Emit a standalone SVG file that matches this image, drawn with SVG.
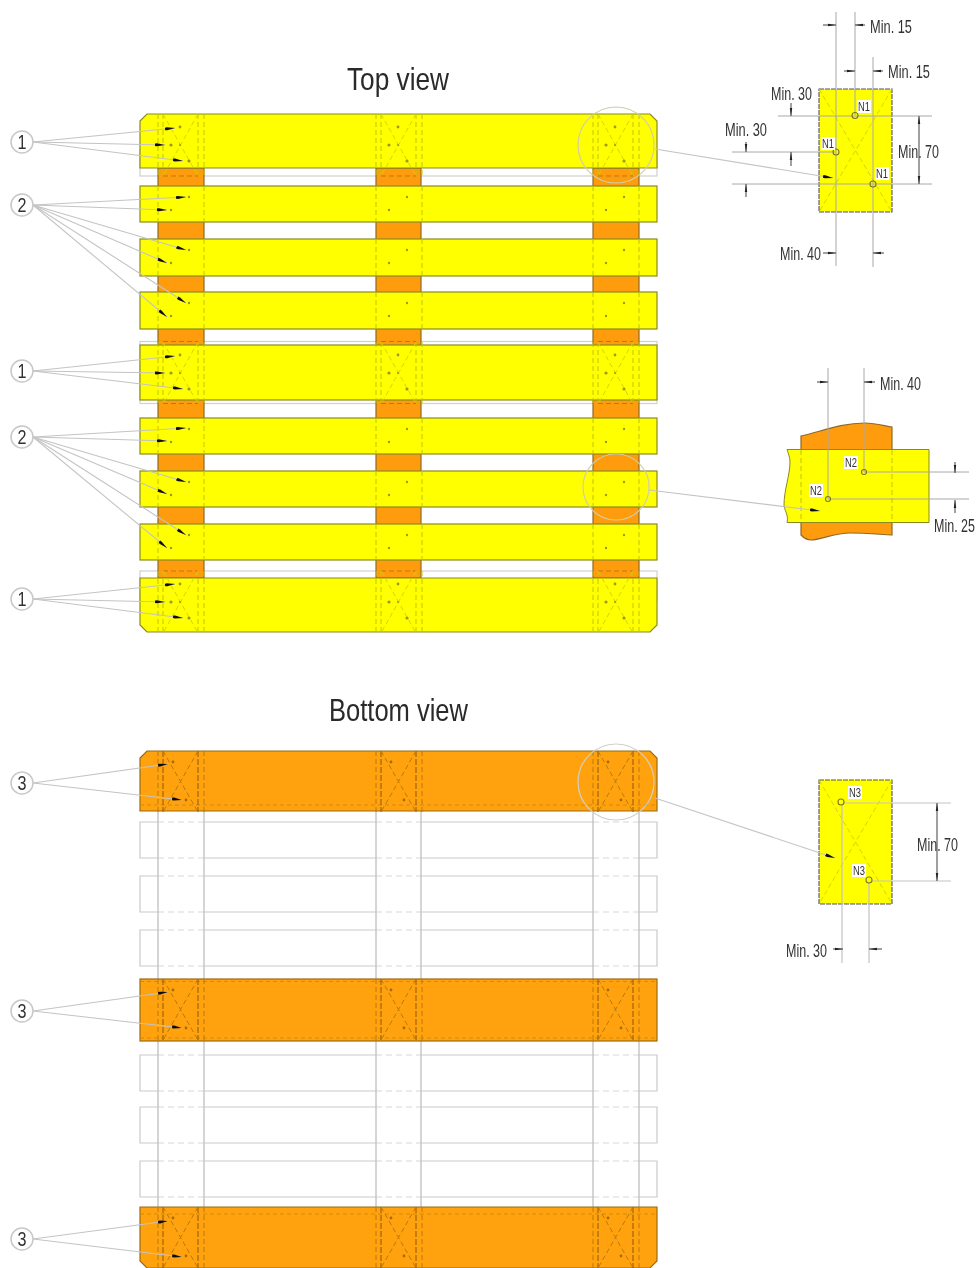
<svg xmlns="http://www.w3.org/2000/svg" width="978" height="1268" viewBox="0 0 978 1268">
<style>
text{font-family:"Liberation Sans",Arial,sans-serif;fill:#333}
.title{font-size:32px;fill:#2a2a2a}
.dimt{font-size:18px}
.num{font-size:20px;text-anchor:middle}
.nlab{font-size:12.5px;fill:#333}
.nbg{fill:#fff}
.yb{fill:#ff0;stroke:#8a8a20;stroke-width:1.2}
.ob{fill:#ffa20c;stroke:#9a6a14;stroke-width:1.2}
.block{fill:#ff9c0e;stroke:#8d6a2a;stroke-width:1.2}
.hid{fill:#fff;stroke:#d0d0d0;stroke-width:1.2}
.dy{fill:none;stroke:#c4c400;stroke-width:1;stroke-dasharray:5 3}
.dyt{fill:none;stroke:#d0d000;stroke-width:.9;stroke-dasharray:5 3}
.dor{fill:none;stroke:#b87a10;stroke-width:1;stroke-dasharray:5 3}
.dor2{fill:none;stroke:#8a5a10;stroke-width:1;stroke-dasharray:6 2}
.dor3{fill:none;stroke:#d08a10;stroke-width:1;stroke-dasharray:4 3}
.dot{fill:#9a9a20}
.dodot{fill:#a8680c}
.gl{fill:none;stroke:#cacaca;stroke-width:1.2}
.gd{fill:none;stroke:#d8d8d8;stroke-width:1.2;stroke-dasharray:6 4}
.vl{fill:none;stroke:#c4c4c4;stroke-width:1.4}
.lead{fill:none;stroke:#c4c4c4;stroke-width:1.1;marker-end:url(#tip)}
.callout{fill:#fff;stroke:#c8c8c8;stroke-width:1.5}
.loupe{fill:none;stroke:#cfcfa8;stroke-width:1.2}
.ext{fill:none;stroke:#a8a8a8;stroke-width:1}
.dim{fill:none;stroke:#444;stroke-width:1;marker-end:url(#dtip)}
.det{fill:#ff0;stroke:#555;stroke-width:1.1;stroke-dasharray:5 1}
.hole{fill:none;stroke:#7a7a20;stroke-width:1.1}
</style>
<defs>
<filter id="soft" filterUnits="userSpaceOnUse" x="0" y="0" width="978" height="1268"><feGaussianBlur stdDeviation="0.65"/></filter>
<marker id="tip" markerUnits="userSpaceOnUse" markerWidth="11" markerHeight="6" refX="10" refY="2.500" orient="auto"><path d="M0,1.200 L2,1 L10,2.500 L2,4 L0,3.800Z" fill="#111"/></marker>
<marker id="dtip" markerUnits="userSpaceOnUse" markerWidth="9" markerHeight="5" refX="8" refY="2.500" orient="auto"><path d="M0,1.300 L8,2.500 L0,3.700Z" fill="#222"/></marker>
<g id="topWide">
<path class="dy" d="M0,0V62M46,0V62"/>
<path class="dy" d="M5,0V62M40,0V62"/>
<path class="dyt" d="M5,0L40,62M40,0L5,62"/>
<circle class="dot" cx="22" cy="13" r="1.4"/><circle class="dot" cx="13" cy="31" r="1.6"/><circle class="dot" cx="31" cy="47" r="1.6"/><circle class="dot" cx="22" cy="31" r="1"/>
</g>
<g id="topNarrow">
<path class="dy" d="M0,0V36M46,0V36"/>
<circle class="dot" cx="31" cy="11" r="1.2"/><circle class="dot" cx="13" cy="24" r="1.2"/>
</g>
<g id="botWide">
<path class="dor" d="M0,0V61M46,0V61"/>
<path class="dor2" d="M5,0V61M40,0V61"/>
<path class="dor" d="M5,0L40,61M40,0L5,61"/>
<circle class="dodot" cx="15" cy="11" r="1.4"/><circle class="dodot" cx="28" cy="49" r="1.4"/>
</g>
<g id="openBoard">
<path class="gl" d="M18,0H0V36H18M64,0H236M281,0H453M499,0H517V36H499M453,36H281M236,36H64"/>
<path class="gd" d="M18,0H64M236,0H281M453,0H499M18,36H64M236,36H281M453,36H499"/>
</g>
</defs>
<rect width="978" height="1268" fill="#fff"/>
<g filter="url(#soft)">
<g id="top-view">
<text class="title" x="347" y="90" textLength="102" lengthAdjust="spacingAndGlyphs">Top view</text>
<rect class="hid" x="140" y="150" width="517" height="26"/>
<rect class="hid" x="140" y="341.500" width="517" height="62"/>
<rect class="hid" x="140" y="571" width="517" height="30"/>
<rect class="block" x="158" y="168" width="46" height="410"/>
<rect class="block" x="376" y="168" width="45" height="410"/>
<rect class="block" x="593" y="168" width="46" height="410"/>
<path class="dor" d="M163,176H198M381,176H416M598,176H633M163,341.500H198M381,341.500H416M598,341.500H633M163,403.500H198M381,403.500H416M598,403.500H633M163,571H198M381,571H416M598,571H633"/>
<path class="yb" d="M147,114H650L657,121V168H140V121Z"/>
<rect class="yb" x="140" y="186" width="517" height="36"/>
<rect class="yb" x="140" y="239" width="517" height="37"/>
<rect class="yb" x="140" y="292" width="517" height="37"/>
<rect class="yb" x="140" y="345" width="517" height="55"/>
<rect class="yb" x="140" y="418" width="517" height="36"/>
<rect class="yb" x="140" y="471" width="517" height="36"/>
<rect class="yb" x="140" y="524" width="517" height="36"/>
<path class="yb" d="M140,578H657V625L650,632H147L140,625Z"/>
<use href="#topWide" x="158" y="114"/><use href="#topWide" x="376" y="114"/><use href="#topWide" x="593" y="114"/>
<use href="#topWide" x="158" y="342"/><use href="#topWide" x="376" y="342"/><use href="#topWide" x="593" y="342"/>
<use href="#topWide" x="158" y="571"/><use href="#topWide" x="376" y="571"/><use href="#topWide" x="593" y="571"/>
<use href="#topNarrow" x="158" y="186"/><use href="#topNarrow" x="376" y="186"/><use href="#topNarrow" x="593" y="186"/>
<use href="#topNarrow" x="158" y="239"/><use href="#topNarrow" x="376" y="239"/><use href="#topNarrow" x="593" y="239"/>
<use href="#topNarrow" x="158" y="292"/><use href="#topNarrow" x="376" y="292"/><use href="#topNarrow" x="593" y="292"/>
<use href="#topNarrow" x="158" y="418"/><use href="#topNarrow" x="376" y="418"/><use href="#topNarrow" x="593" y="418"/>
<use href="#topNarrow" x="158" y="471"/><use href="#topNarrow" x="376" y="471"/><use href="#topNarrow" x="593" y="471"/>
<use href="#topNarrow" x="158" y="524"/><use href="#topNarrow" x="376" y="524"/><use href="#topNarrow" x="593" y="524"/>
<circle class="loupe" cx="616" cy="145" r="38"/>
<circle class="loupe" cx="616" cy="487" r="33"/>
</g>
<g id="bottom-view">
<text class="title" x="329" y="721" textLength="139" lengthAdjust="spacingAndGlyphs">Bottom view</text>
<use href="#openBoard" x="140" y="822"/><use href="#openBoard" x="140" y="876"/><use href="#openBoard" x="140" y="930"/>
<use href="#openBoard" x="140" y="1055"/><use href="#openBoard" x="140" y="1107"/><use href="#openBoard" x="140" y="1161"/>
<path class="vl" d="M158,811V979M204,811V979M376,811V979M421,811V979M593,811V979M639,811V979M158,1041V1207M204,1041V1207M376,1041V1207M421,1041V1207M593,1041V1207M639,1041V1207"/>
<path class="ob" d="M147,751H650L657,758V811H140V758Z"/>
<rect class="ob" x="140" y="979" width="517" height="62"/>
<path class="ob" d="M140,1207H657V1261L650,1268H147L140,1261Z"/>
<path class="dor3" d="M140,805H657M140,981.500H657M140,1038H657M140,1214H657"/>
<use href="#botWide" x="158" y="751"/><use href="#botWide" x="376" y="751"/><use href="#botWide" x="593" y="751"/>
<use href="#botWide" x="158" y="979"/><use href="#botWide" x="376" y="979"/><use href="#botWide" x="593" y="979"/>
<use href="#botWide" x="158" y="1207"/><use href="#botWide" x="376" y="1207"/><use href="#botWide" x="593" y="1207"/>
<circle class="loupe" cx="616" cy="782" r="38" style="stroke:#d0d0c8"/>
</g>
<g id="detail-n1">
<rect class="det" x="819" y="89" width="73" height="123"/>
<path class="dyt" d="M819,89L892,212M892,89L819,212"/>
<path class="ext" d="M836,12V266M855,12V115M873,57V267M778,116H932M732,152H836M732,184H932"/>
<circle class="hole" cx="855" cy="115.500" r="3"/><circle class="hole" cx="836" cy="152" r="3"/><circle class="hole" cx="873" cy="184" r="3"/>
<path class="dim" d="M823,25H836"/><path class="dim" d="M865,25H855"/>
<path class="dim" d="M844,71H855"/><path class="dim" d="M883,71H873"/>
<path class="dim" d="M791,103V116"/><path class="dim" d="M791,166V152"/>
<path class="dim" d="M746,142V152"/><path class="dim" d="M746,197V184"/>
<path class="dim" d="M919,150V116"/><path class="dim" d="M919,150V184"/>
<path class="dim" d="M823,253H836"/><path class="dim" d="M884,253H873"/>
<rect class="nbg" x="857" y="100" width="14" height="13"/><text class="nlab" x="858" y="111" textLength="12" lengthAdjust="spacingAndGlyphs">N1</text>
<rect class="nbg" x="821" y="137" width="14" height="13"/><text class="nlab" x="822" y="148" textLength="12" lengthAdjust="spacingAndGlyphs">N1</text>
<rect class="nbg" x="875" y="167" width="14" height="13"/><text class="nlab" x="876" y="178" textLength="12" lengthAdjust="spacingAndGlyphs">N1</text>
<text class="dimt" x="870" y="33" textLength="42" lengthAdjust="spacingAndGlyphs">Min. 15</text>
<text class="dimt" x="888" y="78" textLength="42" lengthAdjust="spacingAndGlyphs">Min. 15</text>
<text class="dimt" x="771" y="100" textLength="41" lengthAdjust="spacingAndGlyphs">Min. 30</text>
<text class="dimt" x="725" y="136" textLength="42" lengthAdjust="spacingAndGlyphs">Min. 30</text>
<text class="dimt" x="898" y="158" textLength="41" lengthAdjust="spacingAndGlyphs">Min. 70</text>
<text class="dimt" x="780" y="260" textLength="41" lengthAdjust="spacingAndGlyphs">Min. 40</text>
</g>
<g id="detail-n2">
<path class="block" d="M801,436C820,432 840,423 865,423C875,423 885,426 892,427V535C875,534 865,533 850,533C835,533 820,540 811,540C807,540 804,538 801,535Z"/>
<path class="yb" d="M787,449.500H929V522.500H787C789,515 784,510 784,505C784,490 790,475 790,462C790,457 788,453 787,449.500Z" style="stroke-width:1"/>
<path class="dy" d="M801,450V522M892,450V522"/>
<path class="ext" d="M828,368V499M864,368V472M864,472H969M828,499H969"/>
<circle class="hole" cx="864" cy="472" r="2.500"/><circle class="hole" cx="828" cy="499" r="2.500"/>
<path class="dim" d="M817,382H828"/><path class="dim" d="M875,382H864"/>
<path class="dim" d="M955,462V473"/><path class="dim" d="M955,513V500"/>
<rect class="nbg" x="844" y="456" width="14" height="13"/><text class="nlab" x="845" y="467" textLength="12" lengthAdjust="spacingAndGlyphs">N2</text>
<rect class="nbg" x="809" y="484" width="14" height="13"/><text class="nlab" x="810" y="495" textLength="12" lengthAdjust="spacingAndGlyphs">N2</text>
<text class="dimt" x="880" y="390" textLength="41" lengthAdjust="spacingAndGlyphs">Min. 40</text>
<text class="dimt" transform="translate(934,532) scale(.695,1)">Min. 25</text>
</g>
<g id="detail-n3">
<rect class="det" x="819" y="780" width="73" height="124"/>
<path class="dyt" d="M819,780L892,904M892,780L819,904"/>
<path class="ext" d="M842,805V963M869,883V963M844,803H951M872,881H951" style="stroke:#c4c4c4;stroke-width:1.2"/>
<circle class="hole" cx="841" cy="802" r="3"/><circle class="hole" cx="869" cy="880" r="3"/>
<path class="dim" d="M937,842V803"/><path class="dim" d="M937,842V881"/>
<path class="dim" d="M833,949H843"/><path class="dim" d="M882,949H869"/>
<rect class="nbg" x="848" y="786" width="14" height="13"/><text class="nlab" x="849" y="797" textLength="12" lengthAdjust="spacingAndGlyphs">N3</text>
<rect class="nbg" x="852" y="864" width="14" height="13"/><text class="nlab" x="853" y="875" textLength="12" lengthAdjust="spacingAndGlyphs">N3</text>
<text class="dimt" x="917" y="851" textLength="41" lengthAdjust="spacingAndGlyphs">Min. 70</text>
<text class="dimt" x="786" y="957" textLength="41" lengthAdjust="spacingAndGlyphs">Min. 30</text>
</g>
<g id="connectors">
<path class="lead" d="M33,142L175,128"/><path class="lead" d="M33,142L165,145"/><path class="lead" d="M33,142L183,161"/>
<path class="lead" d="M33,205L186,197"/><path class="lead" d="M33,205L167,210"/><path class="lead" d="M33,205L186,250"/><path class="lead" d="M33,205L167,263"/><path class="lead" d="M33,205L186,303"/><path class="lead" d="M33,205L167,317"/>
<path class="lead" d="M33,371L175,356"/><path class="lead" d="M33,371L165,373"/><path class="lead" d="M33,371L183,389"/>
<path class="lead" d="M33,437L186,428"/><path class="lead" d="M33,437L167,441"/><path class="lead" d="M33,437L186,482"/><path class="lead" d="M33,437L167,494"/><path class="lead" d="M33,437L186,535"/><path class="lead" d="M33,437L167,548"/>
<path class="lead" d="M33,599L175,584"/><path class="lead" d="M33,599L165,602"/><path class="lead" d="M33,599L183,618"/>
<path class="lead" d="M33,783L168,764"/><path class="lead" d="M33,783L182,800"/>
<path class="lead" d="M33,1011L168,992"/><path class="lead" d="M33,1011L182,1028"/>
<path class="lead" d="M33,1239L168,1221"/><path class="lead" d="M33,1239L182,1257"/>
<path class="lead" d="M655,149L833,178"/>
<path class="lead" d="M649,490L820,511"/>
<path class="lead" d="M655,798L835,858"/>
</g>
<g id="callout-1a"><circle class="callout" cx="22" cy="142" r="11"/><text class="num" x="22" y="149" textLength="9" lengthAdjust="spacingAndGlyphs">1</text></g>
<g id="callout-2a"><circle class="callout" cx="22" cy="205" r="11"/><text class="num" x="22" y="212" textLength="9" lengthAdjust="spacingAndGlyphs">2</text></g>
<g id="callout-1b"><circle class="callout" cx="22" cy="371" r="11"/><text class="num" x="22" y="378" textLength="9" lengthAdjust="spacingAndGlyphs">1</text></g>
<g id="callout-2b"><circle class="callout" cx="22" cy="437" r="11"/><text class="num" x="22" y="444" textLength="9" lengthAdjust="spacingAndGlyphs">2</text></g>
<g id="callout-1c"><circle class="callout" cx="22" cy="599" r="11"/><text class="num" x="22" y="606" textLength="9" lengthAdjust="spacingAndGlyphs">1</text></g>
<g id="callout-3a"><circle class="callout" cx="22" cy="783" r="11"/><text class="num" x="22" y="790" textLength="9" lengthAdjust="spacingAndGlyphs">3</text></g>
<g id="callout-3b"><circle class="callout" cx="22" cy="1011" r="11"/><text class="num" x="22" y="1018" textLength="9" lengthAdjust="spacingAndGlyphs">3</text></g>
<g id="callout-3c"><circle class="callout" cx="22" cy="1239" r="11"/><text class="num" x="22" y="1246" textLength="9" lengthAdjust="spacingAndGlyphs">3</text></g>
</g>
</svg>
